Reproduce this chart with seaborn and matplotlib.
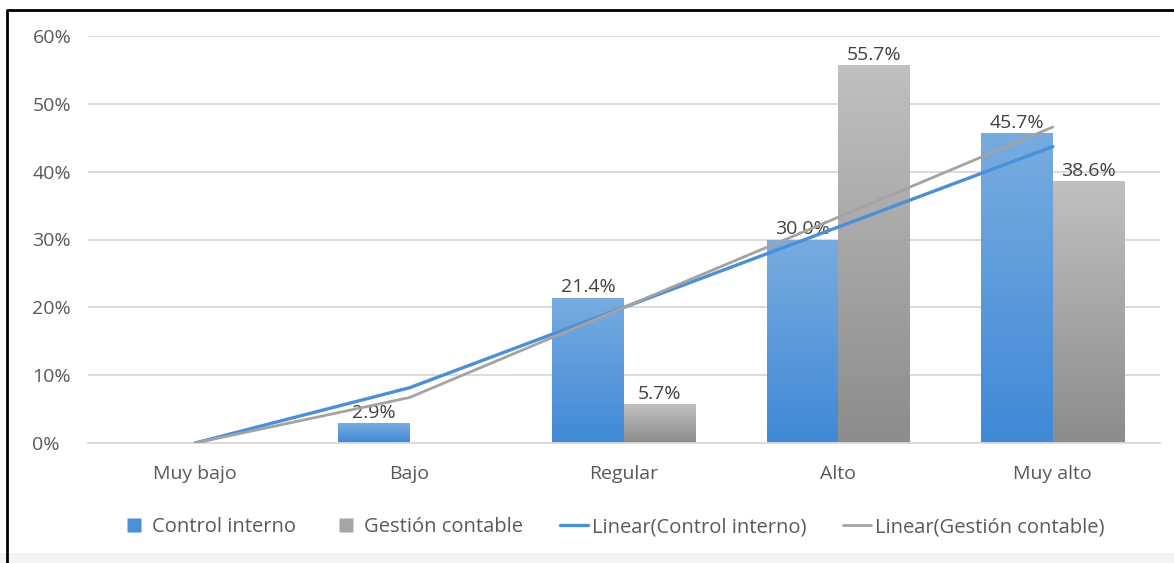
import numpy as np
import pandas as pd
import matplotlib
matplotlib.use("Agg")
import matplotlib.pyplot as plt
from matplotlib.colors import LinearSegmentedColormap
from matplotlib.patches import Rectangle
from matplotlib.lines import Line2D
import seaborn as sns

categories = ["Muy bajo", "Bajo", "Regular", "Alto", "Muy alto"]
control_interno = [0.0, 2.9, 21.4, 30.0, 45.7]
gestion_contable = [0.0, 0.0, 5.7, 55.7, 38.6]
series_names = ["Control interno", "Gestión contable"]
y_ticks = [0, 10, 20, 30, 40, 50, 60]

blue_top, blue_bottom = "#78ACE0", "#3F89D6"
gray_top, gray_bottom = "#C0C0C0", "#8C8C8C"
blue_line, gray_line = "#4A90D9", "#A3A3A3"
text_color = "#595959"
FS = 14

sns.set_theme(style="white")
plt.rcParams["font.family"] = ["Open Sans", "DejaVu Sans"]

df = pd.DataFrame({
    "categoria": categories * 2,
    "serie": [series_names[0]] * 5 + [series_names[1]] * 5,
    "valor": control_interno + gestion_contable,
})

W, H = 1174, 563
fig = plt.figure(figsize=(W / 100, H / 100), dpi=100)
ax = fig.add_axes([88 / W, 1 - 443 / H, (1160 - 88) / W, (443 - 36) / H])

sns.barplot(data=df, x="categoria", y="valor", hue="serie", order=categories,
            hue_order=series_names, palette=[blue_bottom, gray_bottom],
            width=0.67, dodge=True, saturation=1, legend=False, ax=ax,
            edgecolor="none", linewidth=0)

# vertical gradient fill for every bar, clipped to the bar shape
grad = np.linspace(1, 0, 256).reshape(-1, 1)
cmaps = [LinearSegmentedColormap.from_list("b", [blue_bottom, blue_top]),
         LinearSegmentedColormap.from_list("g", [gray_bottom, gray_top])]
for container, cmap, vals in zip(ax.containers, cmaps, [control_interno, gestion_contable]):
    for bar, v in zip(container.patches, vals):
        if v <= 0:
            continue
        x0, w = bar.get_x(), bar.get_width()
        im = ax.imshow(grad, cmap=cmap, vmin=0, vmax=1, aspect="auto",
                       extent=(x0, x0 + w, 0, v), origin="upper", zorder=bar.get_zorder() + 0.1)
        im.set_clip_path(bar)
    labels = [f"{v:.1f}%" if v > 0 else "" for v in vals]
    ax.bar_label(container, labels=labels, padding=1, fontsize=FS, color="#404040", zorder=5)

# linear trend lines (least squares), shown from the axis floor upward
xpos = np.arange(len(categories))
for vals, col, lw in [(control_interno, blue_line, 2.4), (gestion_contable, gray_line, 2.0)]:
    slope, intercept = np.polyfit(xpos, vals, 1)
    trend = np.clip(slope * xpos + intercept, 0, None)
    sns.lineplot(x=xpos, y=trend, color=col, linewidth=lw, ax=ax, zorder=6)

ax.set_xlim(-0.5, 4.5)
ax.set_ylim(0, 60)
ax.set_yticks(y_ticks)
ax.set_yticklabels([f"{t}%" for t in y_ticks])
ax.set_xlabel("")
ax.set_ylabel("")
ax.grid(axis="y", color="#D9D9D9", linewidth=1.3)
ax.set_axisbelow(True)
for s in ["top", "right", "left"]:
    ax.spines[s].set_visible(False)
ax.spines["bottom"].set_color("#D9D9D9")
ax.spines["bottom"].set_linewidth(1.3)
ax.tick_params(axis="y", length=0, pad=40, labelsize=FS, labelcolor=text_color)
ax.tick_params(axis="x", length=0, pad=16, labelsize=FS, labelcolor=text_color)
for lab in ax.get_yticklabels():
    lab.set_horizontalalignment("left")

handles = [
    Line2D([], [], marker="s", linestyle="none", markersize=10, markerfacecolor="#4A8FD8", markeredgecolor="none"),
    Line2D([], [], marker="s", linestyle="none", markersize=10, markerfacecolor="#A6A6A6", markeredgecolor="none"),
    Line2D([], [], color=blue_line, linewidth=2.4),
    Line2D([], [], color=gray_line, linewidth=2.0),
]
names = ["Control interno", "Gestión contable", "Linear(Control interno)", "Linear(Gestión contable)"]
fig.legend(handles, names, loc="center", bbox_to_anchor=(612 / W, 1 - 527 / H), ncol=4,
           frameon=False, fontsize=FS + 0.5, labelcolor=text_color, handlelength=1.4,
           handletextpad=0.2, columnspacing=1.8)

# outer frame and bottom band
fig.patches.append(Rectangle((0, 0), 1, 10 / H, transform=fig.transFigure,
                             facecolor="#F3F3F3", edgecolor="none", zorder=0))
fig.add_artist(Line2D([7 / W, 7 / W, 1], [0, 1 - 10 / H, 1 - 10 / H],
                      transform=fig.transFigure, color="black", linewidth=2))

fig.savefig("out.png", dpi=100)
